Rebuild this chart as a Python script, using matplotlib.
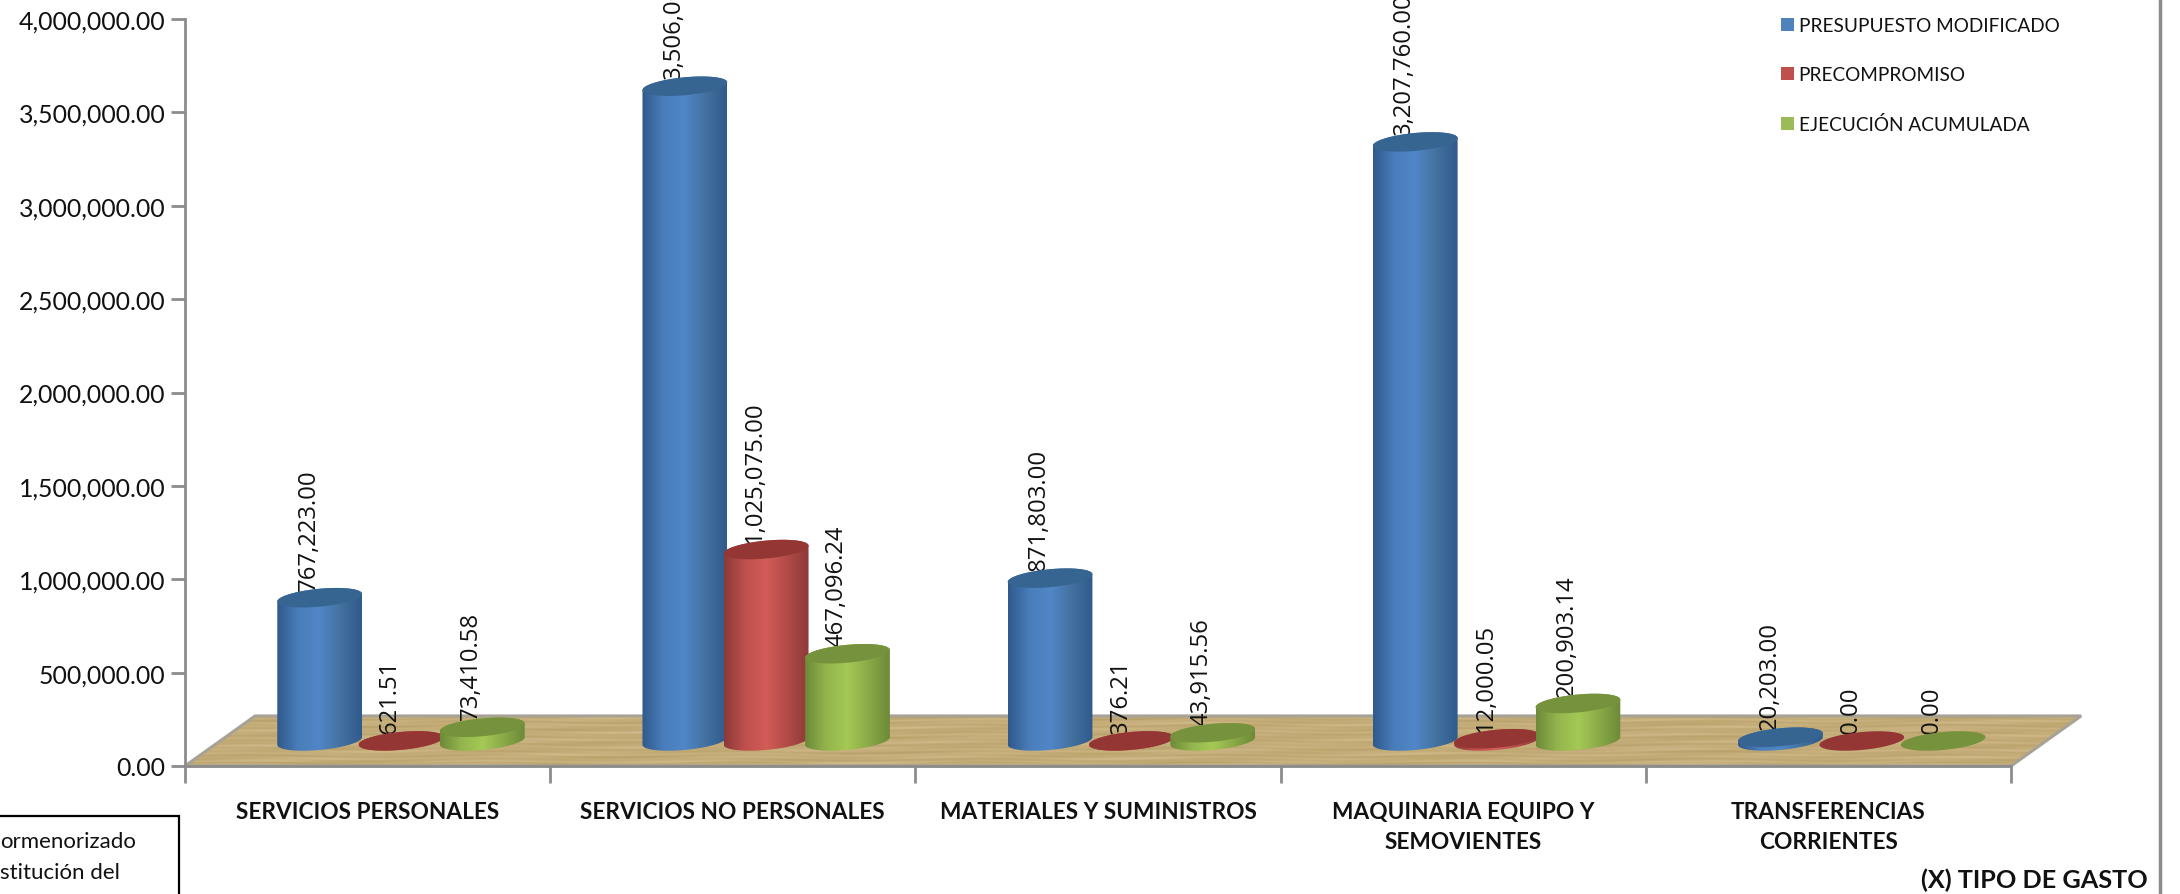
import numpy as np
import matplotlib
matplotlib.use("Agg")
import matplotlib.pyplot as plt
from matplotlib.patches import Polygon, Patch, Rectangle
from matplotlib.colors import LinearSegmentedColormap

plt.rcParams['font.family'] = ['Lato', 'DejaVu Sans']

categories = ["SERVICIOS PERSONALES", "SERVICIOS NO PERSONALES", "MATERIALES Y SUMINISTROS",
              "MAQUINARIA EQUIPO Y\nSEMOVIENTES", "TRANSFERENCIAS\nCORRIENTES"]
presupuesto = [767223.00, 3506000.00, 871803.00, 3207760.00, 20203.00]
precompromiso = [621.51, 1025075.00, 376.21, 12000.05, 0.00]
ejecucion = [73410.58, 467096.24, 43915.56, 200903.14, 0.00]
series_names = ["PRESUPUESTO MODIFICADO", "PRECOMPROMISO", "EJECUCIÓN ACUMULADA"]
yticks = [0, 500000, 1000000, 1500000, 2000000, 2500000, 3000000, 3500000, 4000000]

W, H = 2180, 895
L, R, T, B = 185, 2011, 20, 767
fig = plt.figure(figsize=(W / 100, H / 100), dpi=100)
ax = fig.add_axes([L / W, (H - B) / H, (R - L) / W, (B - T) / H])

series = [
    (presupuesto, ["#2f5a8c", "#4a7dbb", "#5087c8", "#44719f", "#2f5a8c"], "#376592", "#4F81BD"),
    (precompromiso, ["#8c3a38", "#c0504d", "#d25c58", "#b24a48", "#8c3a38"], "#943634", "#C0504D"),
    (ejecucion, ["#6d8a38", "#93b54d", "#a5c955", "#8aaa48", "#6d8a38"], "#76923C", "#9BBB59"),
]

depth_x, spacing, half_w = 0.0914, 0.2227, 0.116
base = 134000
ell_b, ell_s = 48000, 20500

fx, fy = 0.192, 268000
floor_pts = [(0, 0), (5, 0), (5 + fx, fy), (fx, fy)]
floor = Polygon(floor_pts, closed=True, transform=ax.transData, facecolor="none",
                edgecolor="#a8a296", lw=2.2, zorder=2, clip_on=False)
ax.add_patch(floor)
yy, xx = np.mgrid[0:50, 0:700]
tex = (np.sin(xx * 0.031) * np.sin(yy * 0.9 + xx * 0.013) + 0.7 * np.sin(yy * 1.7 + np.sin(xx * 0.07) * 2)
       + 0.5 * np.sin(xx * 0.083 + yy * 0.4))
cm_floor = LinearSegmentedColormap.from_list("floor", ["#b8a06a", "#c4ac78", "#d0bb8a"])
im = ax.imshow(tex, extent=(0, 5 + fx, 0, fy), aspect="auto", cmap=cm_floor, zorder=1,
               interpolation="bilinear")
im.set_clip_path(floor)
im.set_clip_box(fig.bbox)

t_low = np.linspace(np.pi, 2 * np.pi, 50)
t_up = np.linspace(0, np.pi, 50)
t_all = np.linspace(0, 2 * np.pi, 100)


def ell(cx, cy, t):
    return np.column_stack([cx + half_w * np.cos(t), cy + ell_b * np.sin(t) + ell_s * np.cos(t)])


z = 5
for j, (vals, grad, top, _) in enumerate(series):
    cmap = LinearSegmentedColormap.from_list(f"s{j}", grad)
    for i, v in enumerate(vals):
        cx = i + 0.5 + depth_x + (j - 1) * spacing
        topy = base + v
        if v > 0:
            body = np.vstack([ell(cx, base, t_low), ell(cx, topy, t_up)])
            pbody = Polygon(body, closed=True, transform=ax.transData, facecolor="none",
                            edgecolor="none", zorder=z, clip_on=False)
            ax.add_patch(pbody)
            g = ax.imshow(np.linspace(0, 1, 128)[None, :],
                          extent=(cx - half_w, cx + half_w, base - 2 * ell_b, topy + 2 * ell_b),
                          aspect="auto", cmap=cmap, zorder=z)
            g.set_clip_path(pbody)
            g.set_clip_box(fig.bbox)
        ax.add_patch(Polygon(ell(cx, topy, t_all), closed=True, facecolor=top, edgecolor="none",
                             zorder=z + 0.5, clip_on=False))
        ax.text(cx - 0.03, topy + 42000, f"{v:,.2f}", rotation=90, ha="center", va="bottom",
                fontsize=17.2, family="Open Sans", color="#111111", zorder=4, clip_on=False)
        z += 1

ax.set_xlim(0, 5)
ax.set_ylim(0, 4000000)
ax.patch.set_alpha(0)
for s in ["top", "right"]:
    ax.spines[s].set_visible(False)
for s in ["left", "bottom"]:
    ax.spines[s].set_color("#8c8c8c")
    ax.spines[s].set_linewidth(2)
ax.set_yticks(yticks)
ax.set_yticklabels([f"{v:,.2f}" for v in yticks], fontsize=17.9, color="#111111")
ax.tick_params(axis="y", length=10, width=2, color="#8c8c8c", pad=4)
ax.set_xticks(range(6))
ax.set_xticklabels([""] * 6)
ax.tick_params(axis="x", which="major", length=12, width=2, color="#8c8c8c")
ax.set_xticks(np.arange(5) + 0.5, minor=True)
ax.set_xticklabels(categories, minor=True, fontsize=16.3, fontweight="bold", color="#111111", linespacing=1.56)
ax.tick_params(axis="x", which="minor", length=0, pad=25)

fig.text(2148 / W, 1 - 880 / H, "(X) TIPO DE GASTO", ha="right", va="center",
         fontsize=18.2, fontweight="bold", color="#111111")

handles = [Patch(facecolor=s[3], edgecolor="none") for s in series]
leg = ax.legend(handles, series_names, loc="upper left", bbox_transform=fig.transFigure,
                bbox_to_anchor=(1781 / W, 1 - 18 / H), frameon=False, fontsize=13.7,
                handlelength=0.68, handleheight=0.68, handletextpad=0.25, labelspacing=1.68,
                borderpad=0, borderaxespad=0)
for t in leg.get_texts():
    t.set_color("#111111")

fig.add_artist(plt.Line2D([2160 / W, 2160 / W], [0, 1], color="#8c8c8c", lw=2.5))
fig.add_artist(Rectangle((-10 / W, -10 / H), 189 / W, (895 - 817 + 10) / H, transform=fig.transFigure,
                         facecolor="white", edgecolor="black", lw=1.6))
fig.text(0, 1 - 842 / H, "ormenorizado", ha="left", va="center", fontsize=16, color="#111111")
fig.text(0, 1 - 873 / H, "stitución del", ha="left", va="center", fontsize=16, color="#111111")

fig.savefig("out.png", dpi=100)
